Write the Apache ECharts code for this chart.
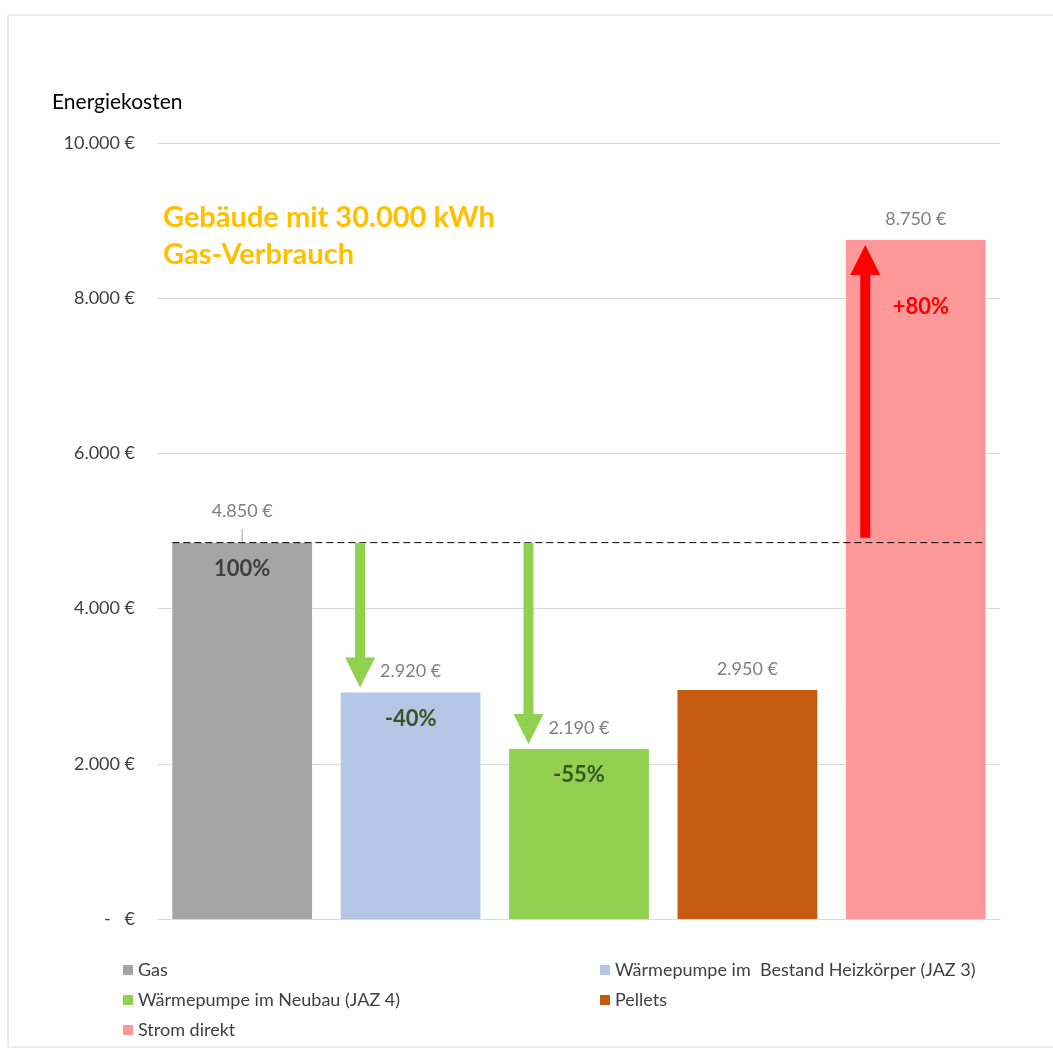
<!DOCTYPE html>
<html>
<head>
<meta charset="utf-8">
<script src="https://cdn.jsdelivr.net/npm/echarts@6/dist/echarts.min.js"></script>
<style>
  html, body { margin: 0; padding: 0; background: #fff; }
  #main { width: 1053px; height: 1050px; }
</style>
</head>
<body>
<div id="main"></div>
<script>
// data
const categories = ['Gas', 'Wärmepumpe im  Bestand Heizkörper (JAZ 3)', 'Wärmepumpe im Neubau (JAZ 4)', 'Pellets', 'Strom direkt'];
const costs = [4850, 2920, 2190, 2950, 8750];
const changeLabels = ['100%', '-40%', '-55%', '', '+80%'];
const arrowTargets = [1, 2, 4]; // Pfeile vom Gas-Niveau zu diesen Balken
const yTicks = [0, 2000, 4000, 6000, 8000, 10000];

const colors = ['#a5a5a5', '#b4c7e7', '#92d050', '#c55a11', '#ff9999'];
const pctColors = ['#404040', '#375623', '#375623', '#404040', '#ff0000'];
const FONT = 'Lato';

function euro(v) {
  if (v === 0) return '-   €';
  return String(v).replace(/\B(?=(\d{3})+(?!\d))/g, '.') + ' €';
}

let myChart = echarts.init(document.getElementById('main'));

const barSeries = categories.map((name, i) => ({
  name: name,
  type: 'bar',
  barWidth: '83%',
  barGap: '-100%',
  itemStyle: { color: colors[i] },
  label: {
    show: true,
    position: 'top',
    distance: i === 0 ? 22 : 12,
    formatter: p => euro(p.value),
    color: '#808080',
    fontSize: 18,
    fontFamily: FONT
  },
  data: costs.map((v, j) => (j === i ? v : '-'))
}));

// gestrichelte Linie auf Gas-Niveau + kleine Führungslinie zum Gas-Label
const dashSeries = {
  type: 'custom',
  xAxisIndex: 1,
  yAxisIndex: 0,
  silent: true,
  z: 5,
  data: [[0, costs[0]]],
  renderItem: function (params, api) {
    const half = api.size([1, 0])[0] * 0.83 / 2;
    const a = api.coord([0, api.value(1)]);
    const b = api.coord([categories.length - 1, api.value(1)]);
    return {
      type: 'group',
      children: [
        {
          type: 'line',
          shape: { x1: a[0] - half, y1: a[1], x2: b[0] + half, y2: b[1] },
          style: { stroke: '#000', lineWidth: 1, lineDash: [7, 4] }
        },
        {
          type: 'line',
          shape: { x1: a[0], y1: a[1] - 1, x2: a[0], y2: a[1] - 14 },
          style: { stroke: '#a6a6a6', lineWidth: 1 }
        }
      ]
    };
  }
};

// Pfeile
const arrowSeries = {
  type: 'custom',
  xAxisIndex: 1,
  yAxisIndex: 0,
  silent: true,
  z: 6,
  data: arrowTargets.map(t => [t, costs[t]]),
  renderItem: function (params, api) {
    const t = api.value(0);
    const shift = -0.3;
    const from = api.coord([t + shift, costs[0]]);
    const to = api.coord([t + shift, api.value(1)]);
    const up = to[1] < from[1];
    const dir = up ? -1 : 1;
    const x = from[0];
    const y0 = from[1] + (up ? -5 : 0);
    const tip = to[1] - dir * 5;
    const base = tip - dir * 30;
    const sh = 5, hh = 15;
    return {
      type: 'polygon',
      shape: {
        points: [
          [x - sh, y0], [x + sh, y0], [x + sh, base], [x + hh, base],
          [x, tip], [x - hh, base], [x - sh, base]
        ]
      },
      style: { fill: up ? '#ff0000' : '#92d050' }
    };
  }
};

// Prozent-Beschriftungen
const pctSeries = {
  type: 'custom',
  xAxisIndex: 1,
  yAxisIndex: 0,
  silent: true,
  z: 7,
  data: costs.map((v, i) => [i, v]),
  renderItem: function (params, api) {
    const i = api.value(0);
    const txt = changeLabels[i];
    if (!txt) return;
    const p = api.coord([i, api.value(1)]);
    const big = i === categories.length - 1;
    return {
      type: 'text',
      x: p[0] + (big ? 5 : 0),
      y: p[1] + (big ? 67 : 26),
      style: {
        text: txt,
        fill: pctColors[i],
        font: 'bold 22px ' + FONT,
        align: 'center',
        verticalAlign: 'middle'
      }
    };
  }
};

const legendBase = {
  orient: 'vertical',
  icon: 'rect',
  itemWidth: 10,
  itemHeight: 10,
  itemGap: 12,
  textStyle: { fontSize: 18, color: '#404040', fontFamily: FONT, lineHeight: 18 }
};

myChart.setOption({
  animation: false,
  textStyle: { fontFamily: FONT },
  grid: { left: 158, right: 53, top: 143, bottom: 131 },
  legend: [
    Object.assign({}, legendBase, { left: 118, top: 956, data: [categories[0], categories[2], categories[4]] }),
    Object.assign({}, legendBase, { left: 595, top: 956, data: [categories[1], categories[3]] })
  ],
  xAxis: [
    {
      type: 'category',
      data: categories,
      axisTick: { show: false },
      axisLabel: { show: false },
      axisLine: { lineStyle: { color: '#d9d9d9', width: 1 } }
    },
    { type: 'value', min: -0.5, max: categories.length - 0.5, show: false }
  ],
  yAxis: {
    type: 'value',
    min: yTicks[0],
    max: yTicks[yTicks.length - 1],
    interval: yTicks[1] - yTicks[0],
    axisLine: { show: false },
    axisTick: { show: false },
    splitLine: { lineStyle: { color: '#d9d9d9', width: 1 } },
    axisLabel: { formatter: euro, color: '#404040', fontSize: 18, margin: 23, fontFamily: FONT }
  },
  graphic: [
    {
      type: 'rect',
      shape: { x: 8, y: 15, width: 1100, height: 1032 },
      style: { fill: 'none', stroke: '#d9d9d9', lineWidth: 1 },
      silent: true
    },
    {
      type: 'text',
      left: 52, top: 92,
      style: { text: 'Energiekosten', font: '21px ' + FONT, fill: '#000' }
    },
    {
      type: 'text',
      left: 163, top: 199,
      style: {
        text: 'Gebäude mit 30.000 kWh\nGas-Verbrauch',
        font: 'bold 29px ' + FONT,
        lineHeight: 37,
        fill: '#ffc000'
      }
    }
  ],
  series: barSeries.concat([dashSeries, arrowSeries, pctSeries])
});
</script>
</body>
</html>
